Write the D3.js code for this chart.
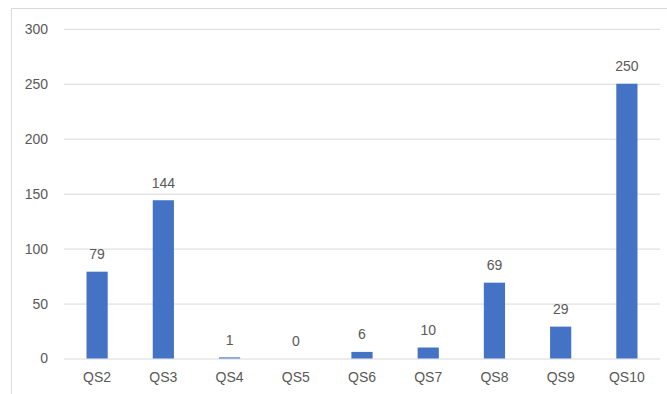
<!DOCTYPE html>
<html>
<head>
<meta charset="utf-8">
<script src="https://cdn.jsdelivr.net/npm/d3@7"></script>
<style>
  html, body { margin: 0; padding: 0; background: #fff; }
  svg { display: block; }
  text { font-family: "Liberation Sans", Arial, sans-serif; fill: #595959; }
</style>
</head>
<body>
<svg id="chart" width="667" height="394"></svg>
<script>
// Responses per question
const categories = ["QS2", "QS3", "QS4", "QS5", "QS6", "QS7", "QS8", "QS9", "QS10"];
const values = [79, 144, 1, 0, 6, 10, 69, 29, 250];
const yTicks = [0, 50, 100, 150, 200, 250, 300];

const svg = d3.select("#chart");
const W = 667, H = 394;
const plot = { left: 64, right: 660, top: 28.8, bottom: 358.5 };

// Chart frame (left and top edges visible)
svg.append("path")
  .attr("d", `M11.5,${H} V8.5 H${W}`)
  .attr("fill", "none")
  .attr("stroke", "#D9D9D9")
  .attr("stroke-width", 1);

const x = d3.scaleBand()
  .domain(categories)
  .range([plot.left, plot.right])
  .paddingInner(0.68)
  .paddingOuter(0.34);

const y = d3.scaleLinear()
  .domain([0, 300])
  .range([plot.bottom, plot.top]);

// Horizontal gridlines and value axis labels
const yAxis = d3.axisLeft(y)
  .tickValues(yTicks)
  .tickSize(-(plot.right - plot.left))
  .tickPadding(16);

const gy = svg.append("g")
  .attr("transform", `translate(${plot.left},0)`)
  .call(yAxis);
gy.select(".domain").remove();
gy.selectAll(".tick line")
  .attr("stroke", "#D9D9D9")
  .attr("stroke-width", 1);
gy.selectAll(".tick text")
  .attr("font-size", 14)
  .attr("fill", "#595959")
  .attr("font-family", "Liberation Sans, Arial, sans-serif");

// Category axis labels
const xAxis = d3.axisBottom(x).tickSize(0).tickPadding(14);
const gx = svg.append("g")
  .attr("transform", `translate(0,${plot.bottom})`)
  .call(xAxis);
gx.select(".domain").remove();
gx.selectAll(".tick text")
  .attr("font-size", 14)
  .attr("fill", "#595959")
  .attr("font-family", "Liberation Sans, Arial, sans-serif");

// Bars
svg.append("g").selectAll("rect")
  .data(categories.map((c, i) => ({ c, v: values[i] })))
  .join("rect")
  .attr("x", d => x(d.c))
  .attr("y", d => y(d.v))
  .attr("width", x.bandwidth())
  .attr("height", d => y(0) - y(d.v))
  .attr("fill", "#4472C4");

// Value labels above bars
svg.append("g").selectAll("text")
  .data(categories.map((c, i) => ({ c, v: values[i] })))
  .join("text")
  .attr("x", d => x(d.c) + x.bandwidth() / 2)
  .attr("y", d => y(d.v) - 12.5)
  .attr("text-anchor", "middle")
  .attr("font-size", 14)
  .text(d => d.v);
</script>
</body>
</html>
